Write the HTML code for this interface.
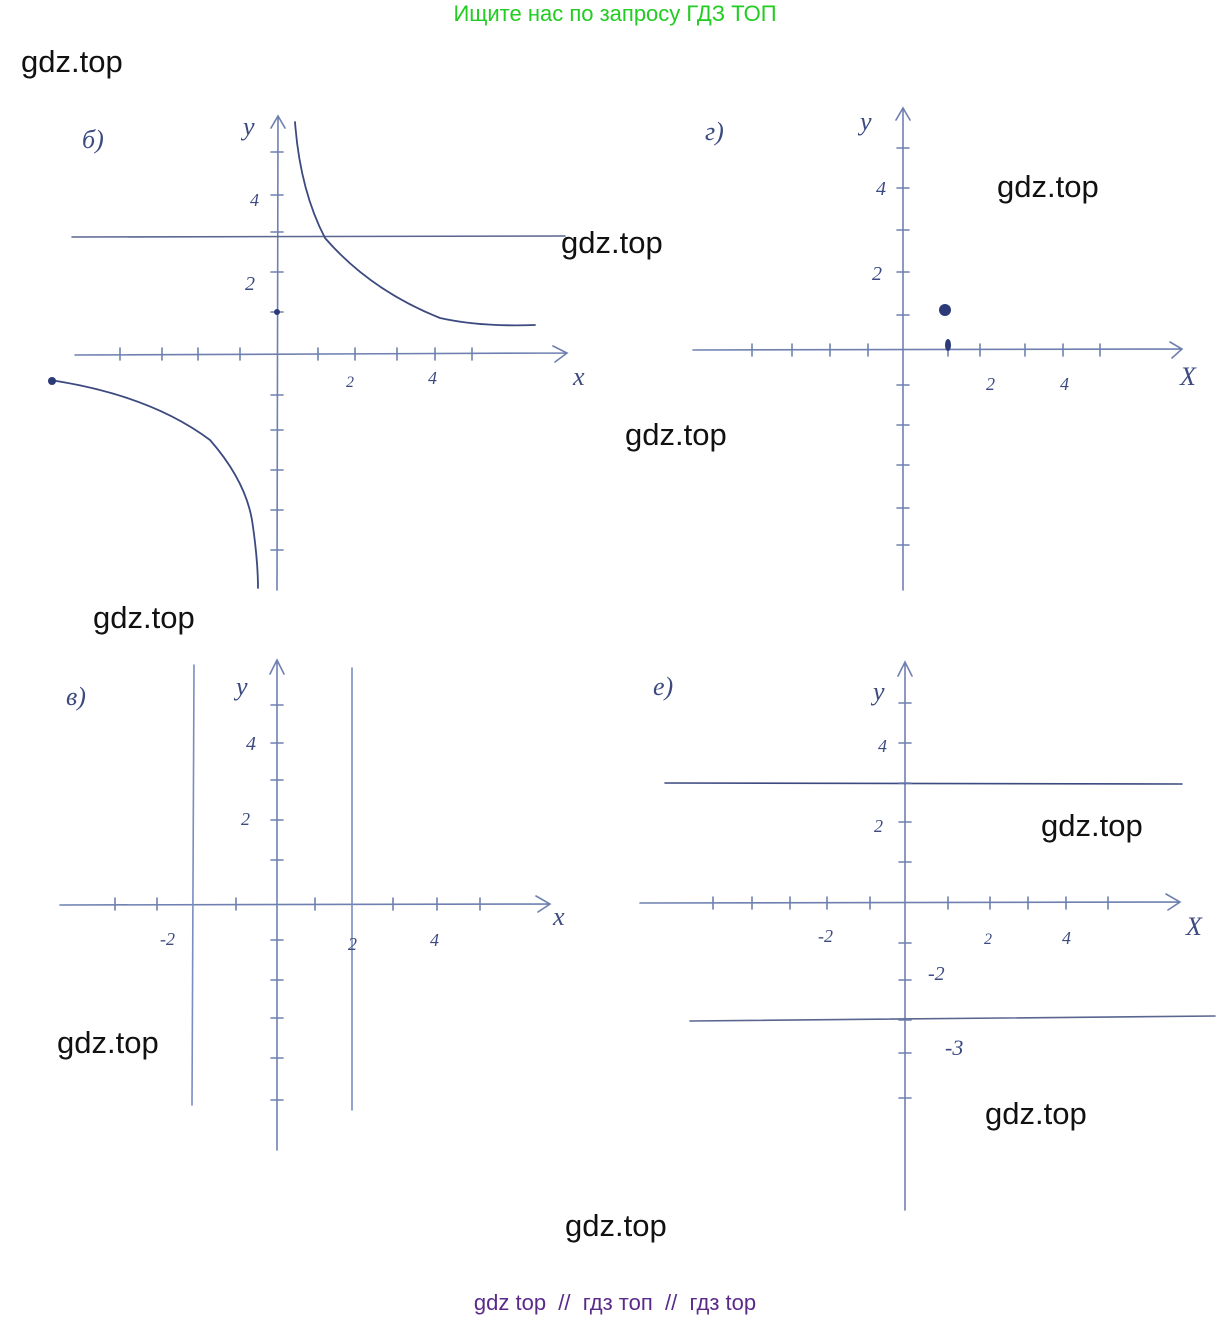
<!DOCTYPE html>
<html><head><meta charset="utf-8"><style>
html,body{margin:0;padding:0;background:#fff;}
body{width:1230px;height:1320px;position:relative;overflow:hidden;font-family:"Liberation Sans",sans-serif;}
.wm{position:absolute;font-size:31px;color:#111;line-height:1;}
svg{position:absolute;left:0;top:0;}
</style></head><body>
<svg width="1230" height="1320" viewBox="0 0 1230 1320">
<g fill="none" stroke="#6f80b0" stroke-width="1.6" stroke-linecap="round">
<path d="M277 590 L278 118 M271 128 L278 116 L285 128"/>
<path d="M75 355 L565 353 M553 346 L567 353 L555 362"/>
<path d="M72 237 L565 236" stroke="#5a6690"/>
<path d="M295 122 Q300 190 325 238 Q370 290 440 318 Q480 327 535 325" stroke="#3c4a80" stroke-width="1.8"/>
<path d="M50 380 Q150 395 210 440 Q245 480 252 520 Q258 560 258 588" stroke="#3c4a80" stroke-width="1.8"/>
<path d="M120 348v12M162 348v12M198 348v12M240 348v12M318 348v12M355 348v12M397 348v12M435 348v12M472 348v12"/>
<path d="M271 152h12M271 195h12M271 232h12M271 272h12M271 312h12M271 395h12M271 430h12M271 470h12M271 510h12M271 550h12"/>
<path d="M903 590 L903 110 M896 120 L903 108 L910 120"/>
<path d="M693 350 L1180 349 M1170 342 L1182 349 L1172 358"/>
<path d="M752 344v12M792 344v12M830 344v12M868 344v12M948 344v12M980 344v12M1025 344v12M1063 344v12M1100 344v12"/>
<path d="M897 148h12M897 188h12M897 230h12M897 272h12M897 315h12M897 385h12M897 425h12M897 465h12M897 508h12M897 545h12"/>
<path d="M277 1150 L277 662 M270 674 L277 660 L284 674"/>
<path d="M60 905 L548 904 M536 896 L550 904 L538 912"/>
<path d="M194 665 L192 1105 M352 668 L352 1110" stroke="#7a8cc0"/>
<path d="M115 898v12M157 898v12M236 898v12M315 898v12M393 898v12M437 898v12M480 898v12"/>
<path d="M271 705h12M271 743h12M271 780h12M271 820h12M271 860h12M271 940h12M271 980h12M271 1018h12M271 1058h12M271 1100h12"/>
<path d="M905 1210 L905 664 M898 676 L905 662 L912 676"/>
<path d="M640 903 L1180 902 M1166 894 L1180 902 L1168 910"/>
<path d="M665 783 L1182 784" stroke="#3c4a80"/>
<path d="M690 1021 L1215 1016" stroke="#5a6690"/>
<path d="M713 897v12M752 897v12M790 897v12M827 897v12M870 897v12M948 897v12M990 897v12M1028 897v12M1066 897v12M1108 897v12"/>
<path d="M899 703h12M899 743h12M899 783h12M899 822h12M899 862h12M899 943h12M899 980h12M899 1020h12M899 1053h12M899 1098h12"/>
</g>
<g fill="#2c3a78">
<circle cx="945" cy="310" r="6"/><ellipse cx="948" cy="345" rx="3" ry="6"/>
<circle cx="52" cy="381" r="4"/><circle cx="277" cy="312" r="3"/>
</g>
<g font-family="Liberation Serif,serif" font-style="italic" fill="#3c4a80" font-size="26">
<text x="82" y="148">б)</text><text x="243" y="135">y</text><text x="250" y="206" font-size="18">4</text><text x="245" y="290" font-size="20">2</text><text x="346" y="387" font-size="16">2</text><text x="428" y="384" font-size="18">4</text><text x="573" y="385">x</text>
<text x="705" y="140">г)</text><text x="860" y="130">y</text><text x="876" y="195" font-size="20">4</text><text x="872" y="280" font-size="20">2</text><text x="986" y="390" font-size="18">2</text><text x="1060" y="390" font-size="18">4</text><text x="1180" y="385">X</text>
<text x="66" y="705">в)</text><text x="236" y="695">y</text><text x="246" y="750" font-size="20">4</text><text x="241" y="825" font-size="18">2</text><text x="160" y="945" font-size="18">-2</text><text x="348" y="950" font-size="18">2</text><text x="430" y="946" font-size="18">4</text><text x="553" y="925">x</text>
<text x="653" y="695">е)</text><text x="873" y="700">y</text><text x="878" y="752" font-size="18">4</text><text x="874" y="832" font-size="18">2</text><text x="818" y="942" font-size="18">-2</text><text x="984" y="944" font-size="16">2</text><text x="1062" y="944" font-size="18">4</text><text x="1186" y="935">X</text><text x="928" y="980" font-size="20">-2</text><text x="945" y="1055" font-size="22">-3</text>
</g>
</svg>
<div style="position:absolute;left:0;width:1230px;top:1px;text-align:center;color:#22cc22;font-size:22px;">Ищите нас по запросу ГДЗ ТОП</div>
<div class="wm" style="left:21px;top:46px">gdz.top</div>
<div class="wm" style="left:561px;top:227px">gdz.top</div>
<div class="wm" style="left:997px;top:171px">gdz.top</div>
<div class="wm" style="left:625px;top:419px">gdz.top</div>
<div class="wm" style="left:93px;top:602px">gdz.top</div>
<div class="wm" style="left:57px;top:1027px">gdz.top</div>
<div class="wm" style="left:1041px;top:810px">gdz.top</div>
<div class="wm" style="left:985px;top:1098px">gdz.top</div>
<div class="wm" style="left:565px;top:1210px">gdz.top</div>
<div style="position:absolute;left:0;width:1230px;top:1290px;text-align:center;color:#5a2a8a;font-size:22px;">gdz top &nbsp;// &nbsp;гдз топ &nbsp;// &nbsp;гдз top</div>
</body></html>
